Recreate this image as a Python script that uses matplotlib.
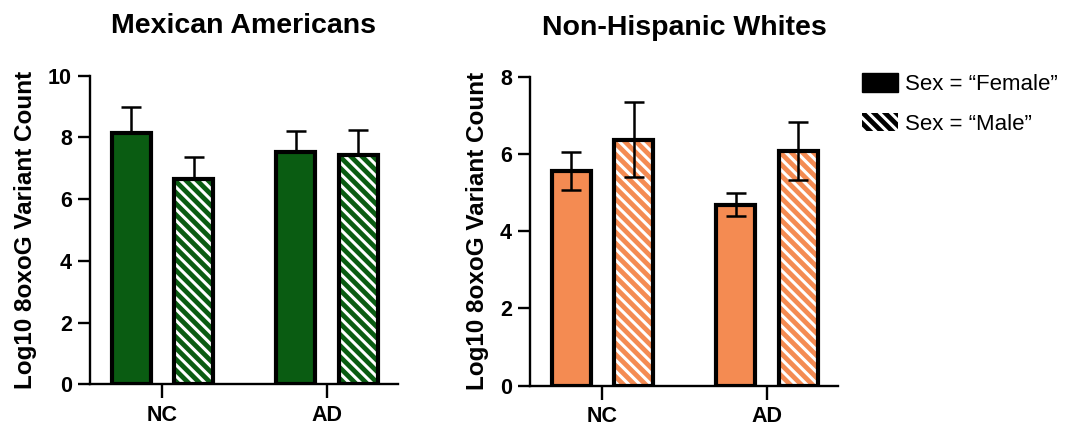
import numpy as np
import matplotlib
matplotlib.use("Agg")
import matplotlib.pyplot as plt
from matplotlib.patches import Patch

plt.rcParams['font.family'] = ['Liberation Sans', 'DejaVu Sans']
plt.rcParams['hatch.linewidth'] = 2.2

# data
groups = ['NC', 'AD']
sex_labels = ['Sex = \u201cFemale\u201d', 'Sex = \u201cMale\u201d']

mex_female = [8.13, 7.54]
mex_male = [6.67, 7.43]
mex_female_err = [0.87, 0.68]
mex_male_err = [0.71, 0.81]

nhw_female = [5.56, 4.68]
nhw_male = [6.37, 6.07]
nhw_female_err = [0.50, 0.30]
nhw_male_err = [0.97, 0.75]

green = '#0a5c12'
orange = '#f48b52'

fig = plt.figure(figsize=(10.69, 4.28), dpi=100)
ax1 = fig.add_axes([0.0842, 0.102, 0.2881, 0.721])
ax2 = fig.add_axes([0.4958, 0.099, 0.2881, 0.722])

x = np.arange(len(groups))
off = 0.19
w = 0.236


def draw_panel(ax, fem, mal, fem_err, mal_err, color, ymax, both_sides):
    # female: solid fill
    ax.bar(x - off, fem, w, color=color, edgecolor='black', linewidth=3, zorder=2)
    # male: hatched fill, then a black outline on top
    ax.bar(x + off, mal, w, color=color, edgecolor='white', hatch='\\\\\\', linewidth=0, zorder=2)
    ax.bar(x + off, mal, w, color='none', edgecolor='black', linewidth=3, zorder=3)
    if both_sides:
        ef, em = fem_err, mal_err
        z = 4
    else:
        ef = [np.zeros(len(fem)), fem_err]
        em = [np.zeros(len(mal)), mal_err]
        z = 1
    ax.errorbar(x - off, fem, yerr=ef, fmt='none', ecolor='black', elinewidth=1.8,
                capsize=7, capthick=1.8, zorder=z)
    ax.errorbar(x + off, mal, yerr=em, fmt='none', ecolor='black', elinewidth=1.8,
                capsize=7, capthick=1.8, zorder=z)

    ax.set_xlim(-0.44, 1.43)
    ax.set_ylim(0, ymax)
    ax.set_yticks(np.arange(0, ymax + 1, 2))
    ax.set_xticks(x)
    ax.set_xticklabels(groups)
    for s in ['top', 'right']:
        ax.spines[s].set_visible(False)
    for s in ['left', 'bottom']:
        ax.spines[s].set_linewidth(1.7)
    ax.tick_params(axis='y', length=9, width=1.7, pad=4, labelsize=15.5)
    ax.tick_params(axis='x', length=10, width=1.7, pad=5, labelsize=15.5)
    for lab in ax.get_xticklabels() + ax.get_yticklabels():
        lab.set_fontweight('bold')
    ax.set_ylabel('Log10 8oxoG Variant Count', fontsize=17.5, fontweight='bold', labelpad=8)


draw_panel(ax1, mex_female, mex_male, mex_female_err, mex_male_err, green, 10, False)
draw_panel(ax2, nhw_female, nhw_male, nhw_female_err, nhw_male_err, orange, 8, True)

fig.text(0.228, 0.923, 'Mexican Americans', ha='center', va='baseline',
         fontsize=20.5, fontweight='bold')
fig.text(0.640, 0.918, 'Non-Hispanic Whites', ha='center', va='baseline',
         fontsize=20.5, fontweight='bold')

handles = [Patch(facecolor='black', edgecolor='black'),
           Patch(facecolor='black', edgecolor='white', hatch='\\\\\\', linewidth=0)]
leg = fig.legend(handles, sex_labels, loc='upper left', bbox_to_anchor=(0.798, 0.850),
                 frameon=False, fontsize=16, handlelength=1.6, handleheight=0.9,
                 handletextpad=0.35, labelspacing=0.8, borderaxespad=0)

fig.savefig('out.png', dpi=100)
